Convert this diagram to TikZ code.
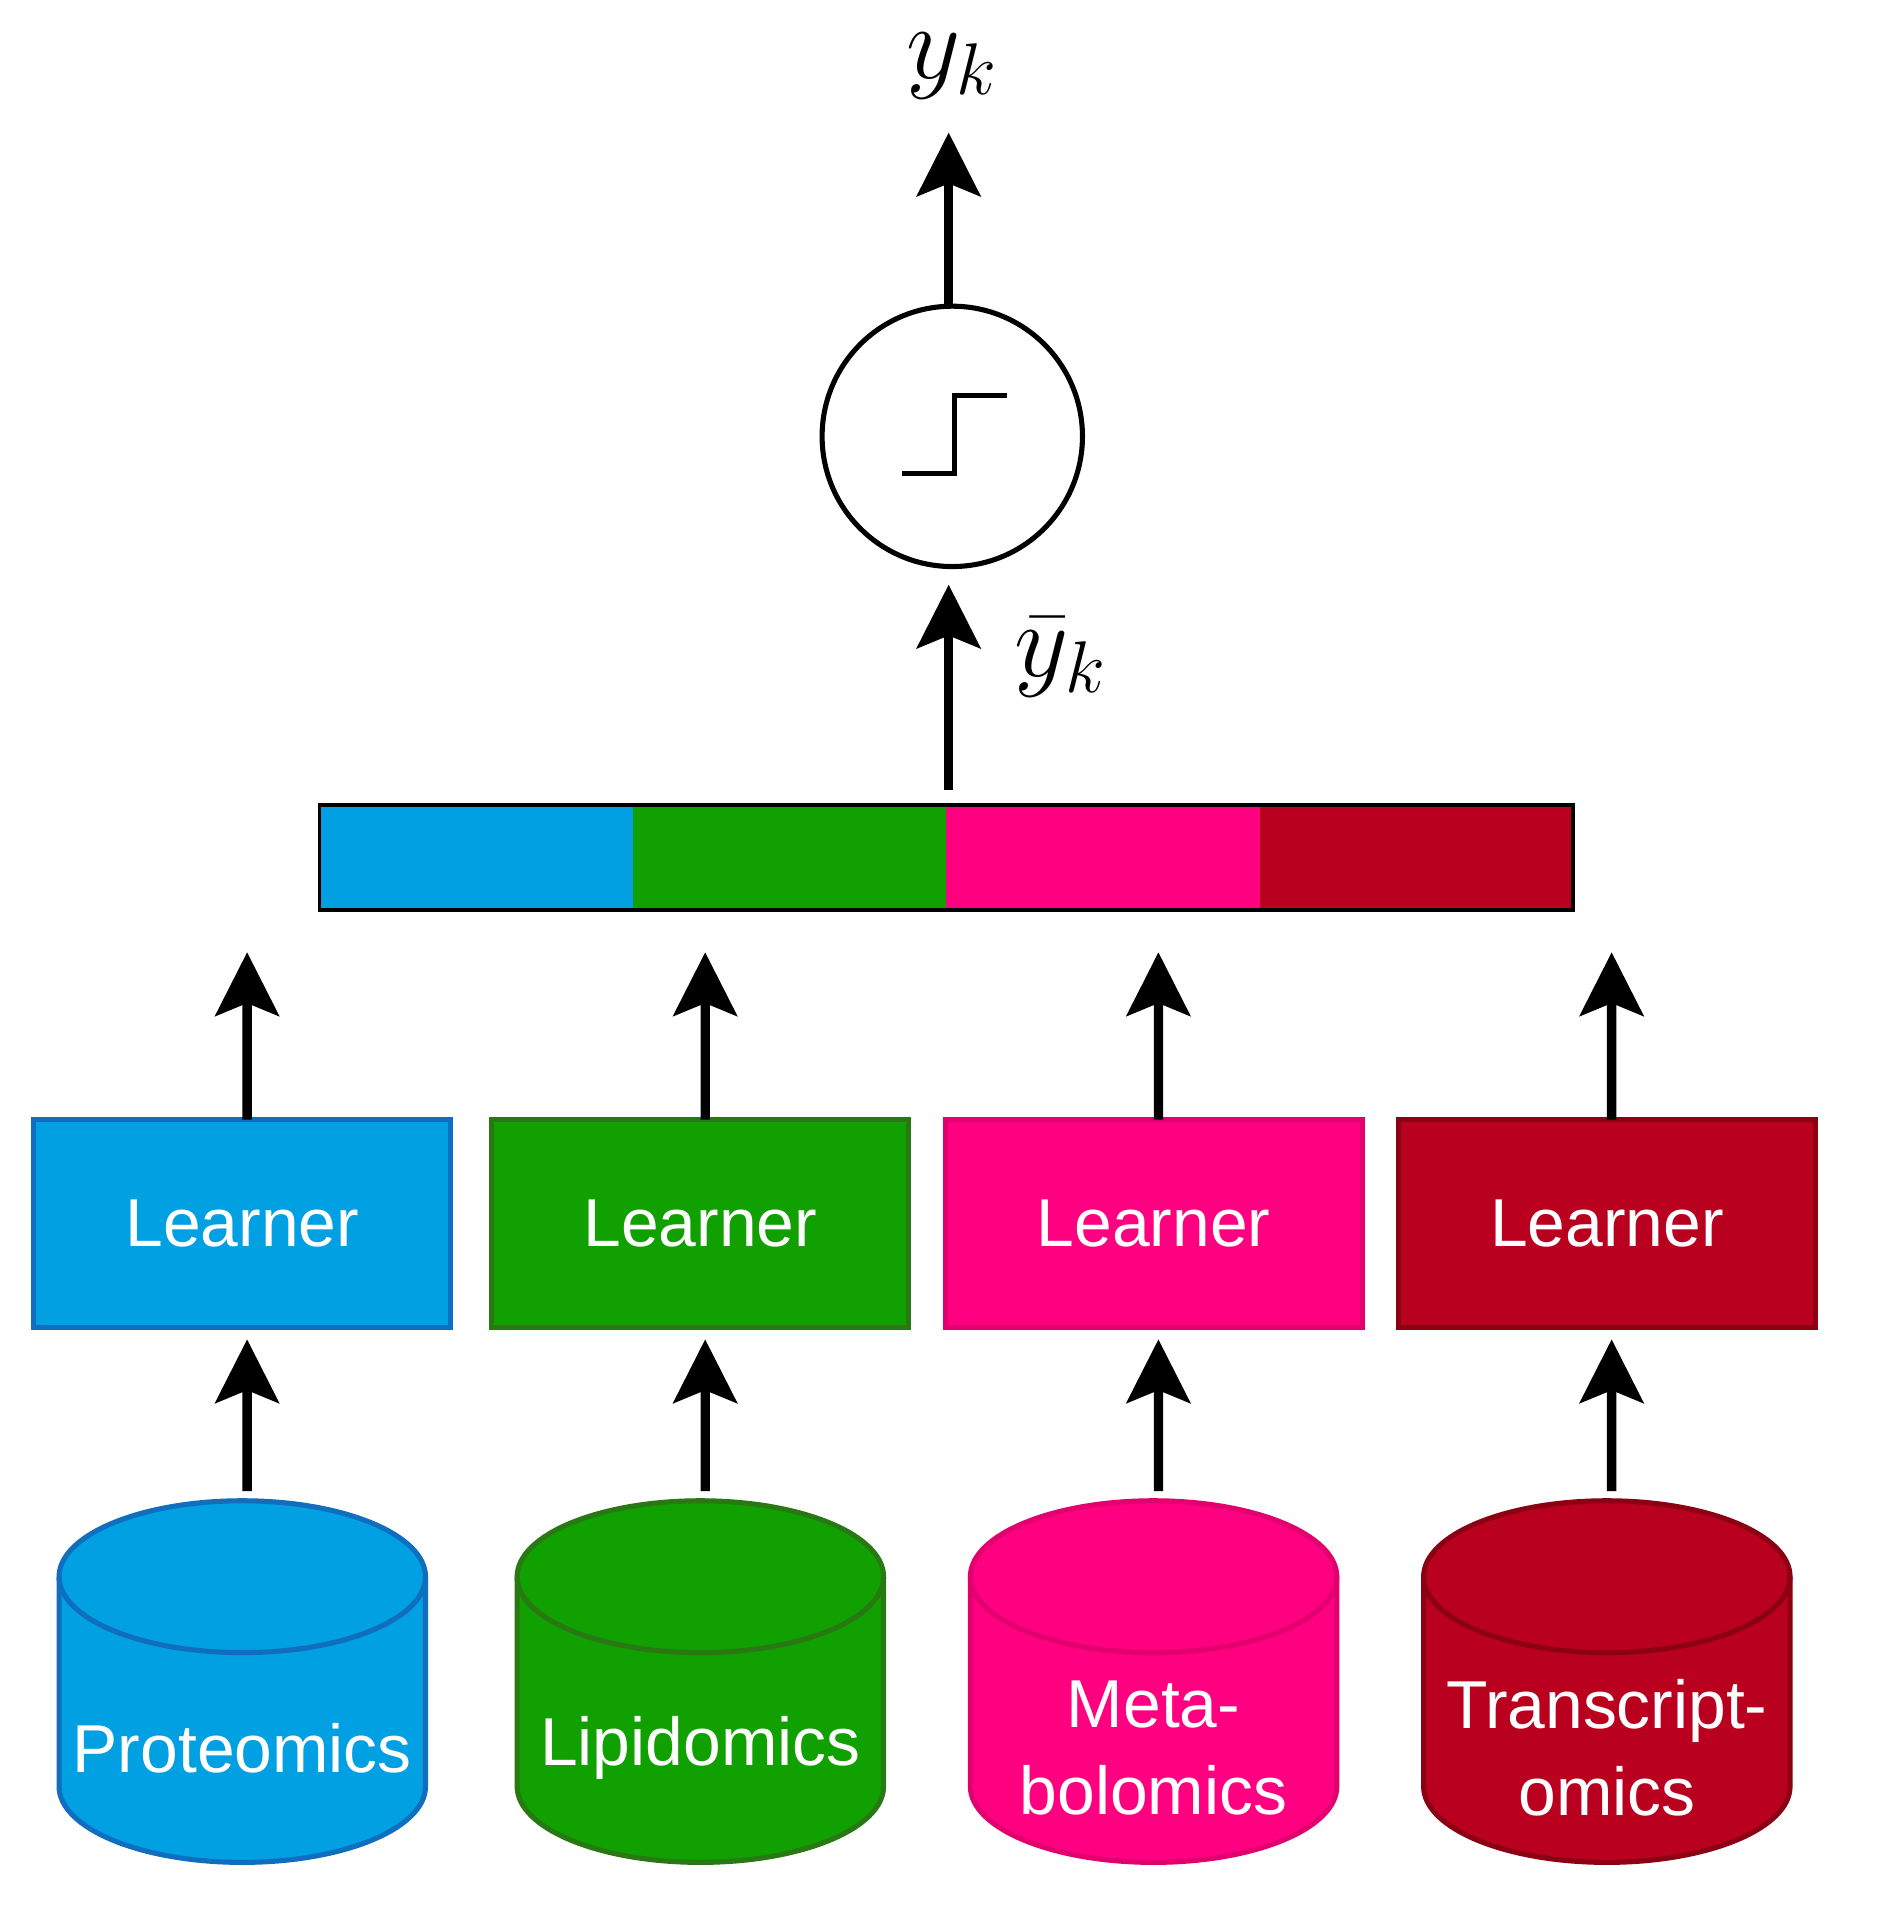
\documentclass[tikz,border=0pt]{standalone}
\usepackage{fontspec}
\setmainfont{Liberation Sans}
\usetikzlibrary{arrows.meta}
\definecolor{cA}{RGB}{0,160,227}\definecolor{bA}{RGB}{16,110,190}
\definecolor{cB}{RGB}{16,160,0}\definecolor{bB}{RGB}{40,120,20}
\definecolor{cC}{RGB}{255,0,128}\definecolor{bC}{RGB}{225,0,110}
\definecolor{cD}{RGB}{185,0,31}\definecolor{bD}{RGB}{140,0,20}
\tikzset{
 arr/.style={line width=2.2pt,-{Stealth[length=15pt,width=15pt,inset=3pt]}},
 learner/.style={draw=#1,line width=1.2pt,minimum width=3.46cm,minimum height=1.72cm,text=white,font=\fontsize{16}{19}\selectfont},
 cyltxt/.style={text=white,font=\fontsize{16}{20.5}\selectfont,align=center},
}
\begin{document}
\begin{tikzpicture}
\useasboundingbox (0,0) rectangle (15.6,-15.87);
% output
\node (yk) at (7.9,-0.55) {\fontsize{26}{30}\selectfont $y_k$};
\node[circle,draw,line width=1.2pt,minimum size=2.16cm] (sig) at (7.9,-3.62) {};
\draw[line width=1.2pt] (7.48,-3.93) -- (7.92,-3.93) -- (7.92,-3.28) -- (8.35,-3.28);
\draw[arr] (sig.north) ++(-0.03,-0.02) -- (7.87,-1.1);
% bar
\fill[cA] (2.65,-6.68) rectangle (5.25,-7.55);
\fill[cB] (5.25,-6.68) rectangle (7.85,-7.55);
\fill[cC] (7.85,-6.68) rectangle (10.45,-7.55);
\fill[cD] (10.45,-6.68) rectangle (13.05,-7.55);
\node[draw,line width=0.9pt,minimum width=10.4cm,minimum height=0.87cm,inner sep=0] (bar) at (7.85,-7.115) {};
\coordinate (bartop) at (7.87,-6.55);
\draw[arr] (bartop) -- (7.87,-4.85) node[coordinate] (sigbot) {};
\node (ybar) at (8.8,-5.45) {\fontsize{26}{30}\selectfont $\bar{y}_k$};
% learners and cylinders
\foreach \i/\x/\c/\t in {1/2.01/A/Proteomics,2/5.81/B/Lipidomics,3/9.57/C/Meta-\\bolomics,4/13.33/D/Transcript-\\omics}{
  \node[learner=b\c,fill=c\c] (L\i) at (\x,-10.15) {Learner};
  \coordinate (up\i) at (\x+0.04,-7.9);
  \draw[arr] (L\i.north) ++(0.04,-0.02) coordinate (s\i) -- (up\i);
  \fill[c\c] (\x-1.52,-13.08) -- (\x-1.52,-14.82) arc[start angle=180,end angle=360,x radius=1.52,y radius=0.63] -- (\x+1.52,-13.08) arc[start angle=0,end angle=180,x radius=1.52,y radius=0.63] -- cycle;
  \draw[b\c,line width=1.2pt] (\x-1.52,-13.08) -- (\x-1.52,-14.82) arc[start angle=180,end angle=360,x radius=1.52,y radius=0.63] -- (\x+1.52,-13.08) arc[start angle=0,end angle=180,x radius=1.52,y radius=0.63];
  \draw[b\c,line width=1.2pt] (\x-1.52,-13.08) arc[start angle=180,end angle=360,x radius=1.52,y radius=0.63];
  \coordinate (ct\i) at (\x+0.04,-12.37);
  \node[cyltxt] (D\i) at (\x,-14.5) {\t};
  \draw[arr] (ct\i) -- ([xshift=0.04cm,yshift=-0.08cm]L\i.south);
}
\end{tikzpicture}
\end{document}
